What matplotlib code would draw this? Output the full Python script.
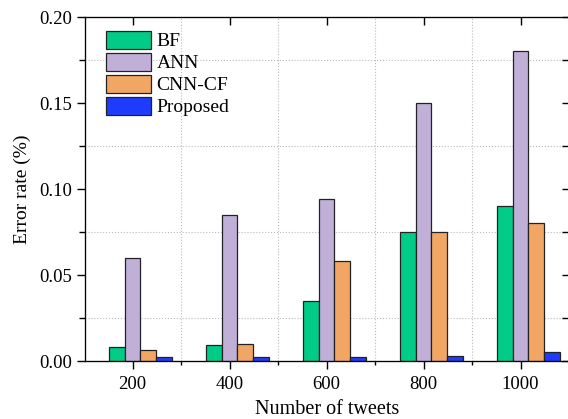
import matplotlib
matplotlib.use("Agg")
import matplotlib.pyplot as plt
import numpy as np
from matplotlib.ticker import MultipleLocator, FixedLocator, FormatStrFormatter

# data
tweets = ["200", "400", "600", "800", "1000"]
series_names = ["BF", "ANN", "CNN-CF", "Proposed"]
bf = [0.008, 0.0095, 0.035, 0.075, 0.090]
ann = [0.060, 0.085, 0.094, 0.150, 0.180]
cnn_cf = [0.0065, 0.010, 0.058, 0.075, 0.080]
proposed = [0.0025, 0.0025, 0.0025, 0.003, 0.005]

colors = ["#00CC88", "#C0B0D8", "#F2A663", "#1E3CFF"]

plt.rcParams["font.family"] = ["Liberation Serif", "DejaVu Serif"]

fig = plt.figure(figsize=(5.68, 4.19), dpi=100)
ax = fig.add_axes([85 / 568, 1 - 361 / 419, (570 - 85) / 568, 344 / 419])

x = np.arange(len(tweets))
w = 0.162
for i, (vals, name) in enumerate(zip([bf, ann, cnn_cf, proposed], series_names)):
    ax.bar(x + (i - 1) * w, vals, width=w, color=colors[i], edgecolor="#222222",
           linewidth=0.9, label=name, zorder=3)

ax.set_xlim(-0.49, 4.51)
ax.set_ylim(0, 0.20)
ax.set_xticks(x)
ax.set_xticklabels(tweets)
ax.xaxis.set_minor_locator(FixedLocator(x[:-1] + 0.5))
ax.yaxis.set_major_locator(MultipleLocator(0.05))
ax.yaxis.set_minor_locator(MultipleLocator(0.025))
ax.yaxis.set_major_formatter(FormatStrFormatter("%.2f"))

# dotted grid only on the minor positions
ax.grid(which="minor", linestyle=":", color="#bbbbbb", linewidth=0.8, zorder=0)

ax.tick_params(axis="both", which="major", labelsize=13.5, direction="out", length=6, width=1)
ax.tick_params(axis="y", which="minor", direction="out", length=4, width=1)
ax.tick_params(axis="x", which="minor", direction="out", length=3, width=1)
ax.tick_params(axis="x", which="major", pad=5)

# inward ticks on the right and top
ax2 = ax.twinx()
ax2.set_ylim(ax.get_ylim())
ax2.yaxis.set_major_locator(MultipleLocator(0.025))
ax2.tick_params(axis="y", direction="in", length=6, width=1, labelright=False)
ax3 = ax.twiny()
ax3.set_xlim(ax.get_xlim())
ax3.set_xticks(x)
ax3.tick_params(axis="x", direction="in", length=6, width=1, labeltop=False)

ax.set_xlabel("Number of tweets", fontsize=14.5, labelpad=5)
ax.set_ylabel("Error rate (%)", fontsize=14, labelpad=6)

ax.legend(loc="upper left", bbox_to_anchor=(0.043, 0.96), frameon=False,
          fontsize=14, handlelength=2.3, handleheight=1.05, labelspacing=0.12,
          handletextpad=0.3, borderpad=0, borderaxespad=0)

fig.savefig("out.png", dpi=100)
plt.close(fig)
